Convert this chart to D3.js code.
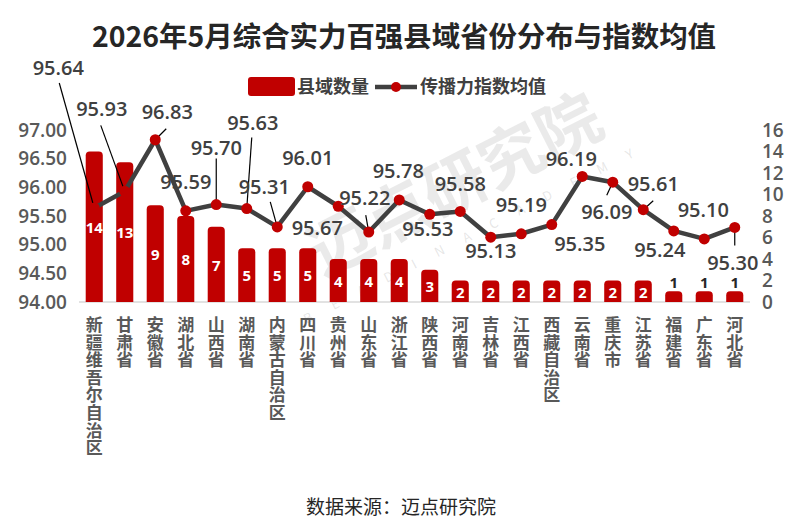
<!DOCTYPE html>
<html>
<head>
<meta charset="utf-8">
<script src="https://cdn.jsdelivr.net/npm/d3@7/dist/d3.min.js"></script>
<style>
  body { margin: 0; background: #fff; }
  svg { display: block; font-family: "Noto Sans CJK SC", "Noto Sans", sans-serif; }
  .num { font-family: "Open Sans", "Noto Sans", sans-serif; }
  .xlabel { writing-mode: vertical-rl; text-orientation: upright; }
</style>
</head>
<body>
<div id="chart"></div>
<script>
// data
const provinces = ['新疆维吾尔自治区', '甘肃省', '安徽省', '湖北省', '山西省', '湖南省', '内蒙古自治区',
  '四川省', '贵州省', '山东省', '浙江省', '陕西省', '河南省', '吉林省', '江西省', '西藏自治区',
  '云南省', '重庆市', '江苏省', '福建省', '广东省', '河北省'];
const countyCounts = [14, 13, 9, 8, 7, 5, 5, 5, 4, 4, 4, 3, 2, 2, 2, 2, 2, 2, 2, 1, 1, 1];
const indexMeans = [95.64, 95.93, 96.83, 95.59, 95.70, 95.63, 95.31, 96.01, 95.67, 95.22, 95.78,
  95.53, 95.58, 95.13, 95.19, 95.35, 96.19, 96.09, 95.61, 95.24, 95.10, 95.30];
const leftTicks = [94, 94.5, 95, 95.5, 96, 96.5, 97];
const rightTicks = [0, 2, 4, 6, 8, 10, 12, 14, 16];

// label placement (offset from the point, leader start offset or null)
const labelOffsets = [
  [-36, -140, [-35, -125]], [-23, -83, [-24, -66]], [12, -28, [11, -11]], [0, -29, null],
  [0, -57, [0, -46]], [6, -86, [5, -71]], [-13, -40, [-7, -25]], [0, -29, null],
  [-21, 22, null], [-4, -34, [-3, -17]], [-1, -29, null], [-2, 15, null],
  [0, -28, null], [0, 14, null], [0, -29, null], [28, 19, null],
  [-11, -18, null], [-6, 30, [-6, 13]], [10, -26, [10, -9]], [-14, 19, null],
  [-1, -29, null], [-2, 35, [0, 18]]
];

const width = 800, height = 520;
const red = '#c00000', dark = '#404040', tickGrey = '#595959';

const svg = d3.select('#chart').append('svg')
  .attr('width', width)
  .attr('height', height);

// watermark
const wm = svg.append('g')
  .attr('transform', 'translate(465,205) rotate(-27)')
  .style('pointer-events', 'none');
wm.append('text')
  .attr('text-anchor', 'middle')
  .attr('font-size', 64)
  .attr('font-weight', 700)
  .attr('fill', '#8c8c8c')
  .attr('fill-opacity', 0.18)
  .text('迈点研究院');
wm.append('text')
  .attr('y', 34)
  .attr('text-anchor', 'middle')
  .attr('font-size', 13)
  .attr('letter-spacing', 22)
  .attr('fill', '#8c8c8c')
  .attr('fill-opacity', 0.22)
  .text('BEADINACADEMY');

// title
svg.append('text')
  .attr('x', 404)
  .attr('y', 47)
  .attr('text-anchor', 'middle')
  .attr('font-size', 28)
  .attr('font-weight', 700)
  .attr('fill', '#262626')
  .attr('textLength', 624)
  .attr('lengthAdjust', 'spacingAndGlyphs')
  .text('2026年5月综合实力百强县域省份分布与指数均值');

// scales
const x = d3.scaleBand()
  .domain(provinces)
  .range([79, 750])
  .paddingInner(0.44)
  .paddingOuter(0.22);
const yLeft = d3.scaleLinear().domain([94, 97]).range([302, 130]);
const yRight = d3.scaleLinear().domain([0, 16]).range([302, 130]);

// axes
const leftAxis = svg.append('g')
  .attr('class', 'num')
  .attr('transform', 'translate(79,0)')
  .call(d3.axisLeft(yLeft).tickValues(leftTicks).tickFormat(d3.format('.2f')).tickSize(0).tickPadding(12));
const rightAxis = svg.append('g')
  .attr('class', 'num')
  .attr('transform', 'translate(750,0)')
  .call(d3.axisRight(yRight).tickValues(rightTicks).tickSize(0).tickPadding(12));
[leftAxis, rightAxis].forEach(a => {
  a.select('.domain').remove();
  a.selectAll('text')
    .attr('font-size', 19)
    .attr('font-weight', 600)
    .attr('fill', tickGrey)
    .attr('font-family', '"Open Sans", sans-serif');
});

// baseline
svg.append('line')
  .attr('x1', 79).attr('x2', 750)
  .attr('y1', 302).attr('y2', 302)
  .attr('stroke', '#d9d9d9')
  .attr('stroke-width', 1.5);

// bars with rounded tops
function topRounded(x0, y0, w, h, r) {
  r = Math.min(r, h);
  return `M${x0},${y0 + h}V${y0 + r}Q${x0},${y0} ${x0 + r},${y0}H${x0 + w - r}Q${x0 + w},${y0} ${x0 + w},${y0 + r}V${y0 + h}Z`;
}
svg.selectAll('path.bar')
  .data(provinces)
  .enter()
  .append('path')
  .attr('class', 'bar')
  .attr('d', (d, i) => {
    const y0 = yRight(countyCounts[i]);
    return topRounded(x(d), y0, x.bandwidth(), 302 - y0, 4);
  })
  .attr('fill', red);

// bar labels
svg.selectAll('text.barlabel')
  .data(provinces)
  .enter()
  .append('text')
  .attr('class', 'barlabel num')
  .attr('x', d => x(d) + x.bandwidth() / 2)
  .attr('y', (d, i) => countyCounts[i] > 1
    ? (yRight(countyCounts[i]) + 302) / 2 + 1
    : yRight(countyCounts[i]) - 9)
  .attr('dy', '0.35em')
  .attr('text-anchor', 'middle')
  .attr('font-size', 15)
  .attr('font-weight', 700)
  .attr('fill', (d, i) => countyCounts[i] > 1 ? '#fff' : '#262626')
  .text((d, i) => countyCounts[i]);

// x labels, written vertically
svg.selectAll('text.xlabel')
  .data(provinces)
  .enter()
  .append('text')
  .attr('class', 'xlabel')
  .attr('x', d => x(d) + x.bandwidth() / 2)
  .attr('y', 316)
  .attr('font-size', 17)
  .attr('font-weight', 700)
  .attr('letter-spacing', 0.6)
  .attr('fill', tickGrey)
  .text(d => d);

// line
const pts = provinces.map((d, i) => [x(d) + x.bandwidth() / 2, yLeft(indexMeans[i])]);
svg.append('path')
  .datum(pts)
  .attr('d', d3.line())
  .attr('fill', 'none')
  .attr('stroke', dark)
  .attr('stroke-width', 4.5)
  .attr('stroke-linejoin', 'round');

// leader lines
svg.selectAll('line.leader')
  .data(pts.map((p, i) => ({ p, o: labelOffsets[i] })).filter(d => d.o[2]))
  .enter()
  .append('line')
  .attr('class', 'leader')
  .attr('x1', d => d.p[0] + d.o[2][0])
  .attr('y1', d => d.p[1] + d.o[2][1])
  .attr('x2', d => d.p[0])
  .attr('y2', d => d.p[1])
  .attr('stroke', '#000')
  .attr('stroke-width', 1.2);

svg.selectAll('circle.dot')
  .data(pts)
  .enter()
  .append('circle')
  .attr('class', 'dot')
  .attr('cx', d => d[0])
  .attr('cy', d => d[1])
  .attr('r', 5.5)
  .attr('fill', red);

// value labels
svg.selectAll('text.vlabel')
  .data(pts)
  .enter()
  .append('text')
  .attr('class', 'vlabel num')
  .attr('x', (d, i) => d[0] + labelOffsets[i][0])
  .attr('y', (d, i) => d[1] + labelOffsets[i][1])
  .attr('dy', '0.36em')
  .attr('text-anchor', 'middle')
  .attr('font-size', 20)
  .attr('font-weight', 600)
  .attr('fill', dark)
  .text((d, i) => indexMeans[i].toFixed(2));

// legend
const lg = svg.append('g');
lg.append('rect')
  .attr('x', 248).attr('y', 77)
  .attr('width', 47).attr('height', 19)
  .attr('rx', 3)
  .attr('fill', red);
lg.append('text')
  .attr('x', 297).attr('y', 87)
  .attr('dy', '0.35em')
  .attr('font-size', 18)
  .attr('font-weight', 700)
  .attr('fill', dark)
  .text('县域数量');
lg.append('line')
  .attr('x1', 375).attr('x2', 417)
  .attr('y1', 87).attr('y2', 87)
  .attr('stroke', dark)
  .attr('stroke-width', 4.5);
lg.append('circle')
  .attr('cx', 396).attr('cy', 87)
  .attr('r', 5)
  .attr('fill', red);
lg.append('text')
  .attr('x', 420).attr('y', 87)
  .attr('dy', '0.35em')
  .attr('font-size', 18)
  .attr('font-weight', 700)
  .attr('fill', dark)
  .text('传播力指数均值');

// source note
svg.append('text')
  .attr('x', 401)
  .attr('y', 507)
  .attr('dy', '0.35em')
  .attr('text-anchor', 'middle')
  .attr('font-size', 19)
  .attr('fill', '#262626')
  .text('数据来源：迈点研究院');
</script>
</body>
</html>
